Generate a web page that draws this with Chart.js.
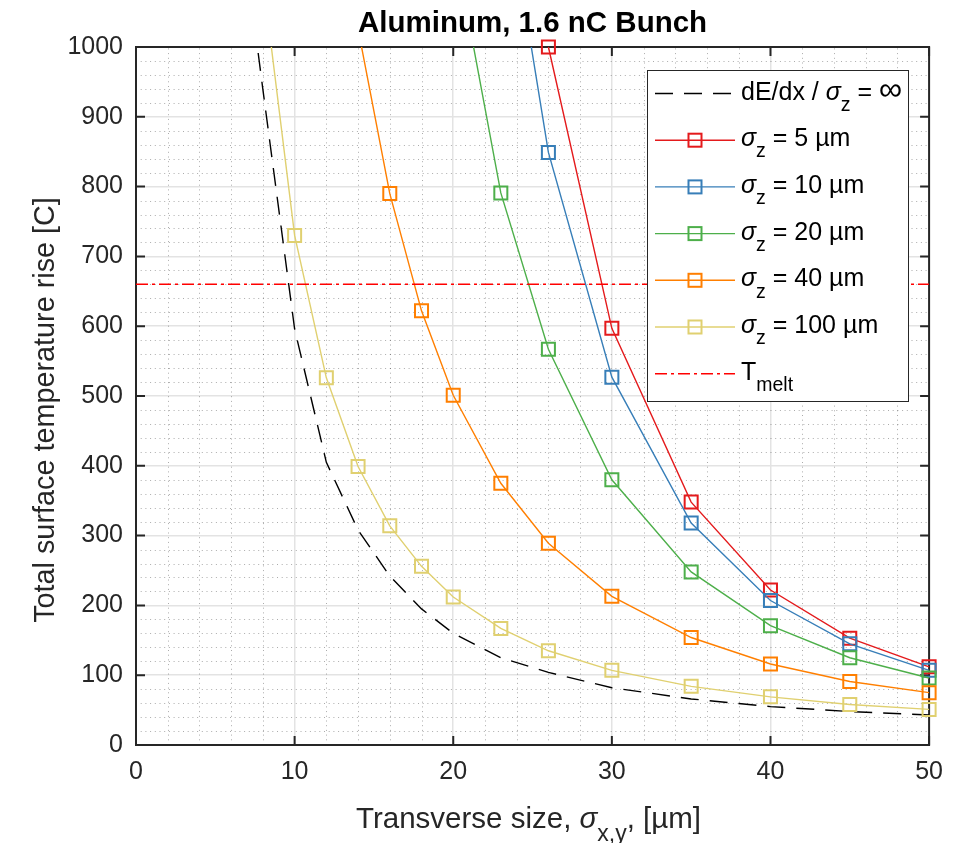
<!DOCTYPE html>
<html>
<head>
<meta charset="utf-8">
<script src="https://cdn.jsdelivr.net/npm/chart.js@4.4.0/dist/chart.umd.min.js"></script>
<style>
  html, body { margin: 0; padding: 0; background: #fff; }
</style>
</head>
<body>
<canvas id="chart" width="955" height="843"></canvas>
<script>
// values (x = transverse size in um, y = temperature rise in C)
var x_inf   = [7, 8, 10, 12, 14, 16, 18, 20, 23, 26, 30, 35, 40, 45, 50];
var t_inf   = [1115, 939, 596, 405, 308, 242, 195, 160, 125, 104, 82, 66, 55, 48, 43];

var x_5   = [26, 30, 35, 40, 45, 50];
var t_5   = [1000, 597, 348, 222, 153, 112];

var x_10  = [23, 26, 30, 35, 40, 45, 50];
var t_10  = [1269, 849, 527, 318, 207, 145, 107];

var x_20  = [20, 23, 26, 30, 35, 40, 45, 50];
var t_20  = [1156, 791, 567, 380, 248, 171, 125, 96];

var x_40  = [14, 16, 18, 20, 23, 26, 30, 35, 40, 45, 50];
var t_40  = [1026, 790, 622, 501, 375, 289, 213, 154, 116, 91, 75];

var x_100 = [8, 10, 12, 14, 16, 18, 20, 23, 26, 30, 35, 40, 45, 50];
var t_100 = [1098, 730, 526, 399, 314, 256, 212, 167, 135, 107, 84, 69, 58, 51];

var t_melt = 660;

var xTicks = [0, 10, 20, 30, 40, 50];
var yTicks = [0, 100, 200, 300, 400, 500, 600, 700, 800, 900, 1000];

var FONT = '"Liberation Sans", Arial, sans-serif';
var INK = '#262626';
var colors = ['#e41a1c', '#377eb8', '#4daf4a', '#ff7f00', '#e0d070'];

function pts(xs, ys) {
    var out = [];
    for (var i = 0; i < xs.length; i++) out.push({x: xs[i], y: ys[i]});
    return out;
}

function seriesSet(label, xs, ys, color, topClip) {
    return {
        label: label,
        data: pts(xs, ys),
        borderColor: color,
        borderWidth: 1.4,
        pointStyle: 'rect',
        pointRadius: 9.2,
        pointHoverRadius: 9.2,
        pointBorderWidth: 2,
        pointBorderColor: color,
        pointBackgroundColor: 'rgba(0,0,0,0)',
        tension: 0,
        clip: {left: 0, top: topClip, right: 9, bottom: 0}
    };
}

// text with italic / subscript parts
function richWidth(ctx, parts, size) {
    var w = 0;
    parts.forEach(function(p) {
        var s = p.sub ? size * 0.78 : (p.big ? size * 1.3 : size);
        ctx.font = (p.it ? 'italic ' : '') + s + 'px ' + FONT;
        w += ctx.measureText(p.t).width;
    });
    return w;
}
function drawRich(ctx, x, y, parts, size, align) {
    if (align === 'center') x -= richWidth(ctx, parts, size) / 2;
    ctx.textAlign = 'left';
    ctx.textBaseline = 'alphabetic';
    parts.forEach(function(p) {
        var s = p.sub ? size * 0.78 : (p.big ? size * 1.3 : size);
        ctx.font = (p.it ? 'italic ' : '') + s + 'px ' + FONT;
        ctx.fillText(p.t, x, y + (p.sub ? size * 0.45 : 0));
        x += ctx.measureText(p.t).width;
    });
}

var frame = {
    id: 'frame',
    beforeDatasetsDraw: function(chart) {
        var ctx = chart.ctx, a = chart.chartArea, xs = chart.scales.x, ys = chart.scales.y;
        ctx.save();
        // minor grid, dotted
        ctx.strokeStyle = 'rgba(0,0,0,0.33)';
        ctx.lineWidth = 1;
        ctx.setLineDash([1, 3.7]);
        for (var v = 2; v < 50; v += 2) {
            if (v % 10 === 0) continue;
            var px = Math.round(xs.getPixelForValue(v)) + 0.5;
            ctx.beginPath(); ctx.moveTo(px, a.bottom); ctx.lineTo(px, a.top); ctx.stroke();
        }
        for (var w = 20; w < 1000; w += 20) {
            if (w % 100 === 0) continue;
            var py = Math.round(ys.getPixelForValue(w)) + 0.5;
            ctx.beginPath(); ctx.moveTo(a.left, py); ctx.lineTo(a.right, py); ctx.stroke();
        }
        ctx.setLineDash([]);
        // box and inward ticks
        ctx.strokeStyle = INK;
        ctx.lineWidth = 2;
        ctx.strokeRect(a.left, a.top, a.right - a.left, a.bottom - a.top);
        var tl = 9;
        xTicks.forEach(function(v) {
            var px = xs.getPixelForValue(v);
            ctx.beginPath();
            ctx.moveTo(px, a.bottom); ctx.lineTo(px, a.bottom - tl);
            ctx.moveTo(px, a.top); ctx.lineTo(px, a.top + tl);
            ctx.stroke();
        });
        yTicks.forEach(function(v) {
            var py = ys.getPixelForValue(v);
            ctx.beginPath();
            ctx.moveTo(a.left, py); ctx.lineTo(a.left + tl, py);
            ctx.moveTo(a.right, py); ctx.lineTo(a.right - tl, py);
            ctx.stroke();
        });
        ctx.restore();
    },
    afterDraw: function(chart) {
        var ctx = chart.ctx, a = chart.chartArea;
        ctx.save();
        ctx.fillStyle = '#000';
        // title
        ctx.font = 'bold 29.5px ' + FONT;
        ctx.textAlign = 'center';
        ctx.textBaseline = 'alphabetic';
        ctx.fillText('Aluminum, 1.6 nC Bunch', (a.left + a.right) / 2, 32);
        // axis titles
        ctx.fillStyle = INK;
        drawRich(ctx, (a.left + a.right) / 2 - 4, 828, [
            {t: 'Transverse size, '}, {t: '\u03c3', it: true}, {t: 'x,y', sub: true}, {t: ', [\u00b5m]'}
        ], 29.5, 'center');
        ctx.save();
        ctx.translate(54, 410);
        ctx.rotate(-Math.PI / 2);
        ctx.font = '28.8px ' + FONT;
        ctx.textAlign = 'center';
        ctx.fillText('Total surface temperature rise [C]', 0, 0);
        ctx.restore();

        // legend
        var bx = 647, by = 70, bw = 261, bh = 331;
        ctx.fillStyle = '#fff';
        ctx.fillRect(bx, by, bw, bh);
        ctx.strokeStyle = INK;
        ctx.lineWidth = 1;
        ctx.strokeRect(bx + 0.5, by + 0.5, bw, bh);
        var ds = chart.data.datasets;
        var rows = [
            {i: 0, parts: [{t: 'dE/dx / '}, {t: '\u03c3', it: true}, {t: 'z', sub: true}, {t: ' = '}, {t: '\u221e', big: true}]},
            {i: 1, parts: [{t: '\u03c3', it: true}, {t: 'z', sub: true}, {t: ' = 5 \u00b5m'}]},
            {i: 2, parts: [{t: '\u03c3', it: true}, {t: 'z', sub: true}, {t: ' = 10 \u00b5m'}]},
            {i: 3, parts: [{t: '\u03c3', it: true}, {t: 'z', sub: true}, {t: ' = 20 \u00b5m'}]},
            {i: 4, parts: [{t: '\u03c3', it: true}, {t: 'z', sub: true}, {t: ' = 40 \u00b5m'}]},
            {i: 5, parts: [{t: '\u03c3', it: true}, {t: 'z', sub: true}, {t: ' = 100 \u00b5m'}]},
            {i: 6, parts: [{t: 'T'}, {t: 'melt', sub: true}]}
        ];
        rows.forEach(function(r, k) {
            var d = ds[r.i];
            var ly = 93.5 + k * 46.7;
            ctx.strokeStyle = d.borderColor;
            ctx.lineWidth = d.borderWidth;
            ctx.setLineDash(d.borderDash || []);
            ctx.beginPath(); ctx.moveTo(655, ly); ctx.lineTo(735, ly); ctx.stroke();
            ctx.setLineDash([]);
            if (d.pointRadius > 0) {
                ctx.lineWidth = 2;
                ctx.strokeRect(695 - 6.5, ly - 6.5, 13, 13);
            }
            ctx.fillStyle = '#000';
            drawRich(ctx, 741, ly + 6, r.parts, 25, 'left');
        });
        ctx.restore();
    }
};

var datasets = [
    {
        label: 'dE/dx / sigma_z = inf',
        data: pts(x_inf, t_inf),
        borderColor: '#000',
        borderWidth: 1.4,
        borderDash: [18, 11],
        pointRadius: 0,
        tension: 0,
        clip: {left: 0, top: 0, right: 0, bottom: 0}
    },
    seriesSet('sigma_z = 5 um', x_5, t_5, colors[0], 9),
    seriesSet('sigma_z = 10 um', x_10, t_10, colors[1], 0),
    seriesSet('sigma_z = 20 um', x_20, t_20, colors[2], 0),
    seriesSet('sigma_z = 40 um', x_40, t_40, colors[3], 0),
    seriesSet('sigma_z = 100 um', x_100, t_100, colors[4], 0),
    {
        label: 'T_melt',
        data: [{x: xTicks[0], y: t_melt}, {x: xTicks[xTicks.length - 1], y: t_melt}],
        borderColor: '#ff0000',
        borderWidth: 1.4,
        borderDash: [12, 4, 3, 4],
        pointRadius: 0,
        tension: 0
    }
];
datasets.forEach(function(d, i) { d.order = -i; });

var plainTick = function(v) { return String(v); };

var ctx = document.getElementById('chart').getContext('2d');
var chart = new Chart(ctx, {
    type: 'line',
    data: {datasets: datasets},
    options: {
        responsive: false,
        animation: false,
        devicePixelRatio: 1,
        layout: {padding: {left: 0, right: 24, top: 47, bottom: 0}},
        plugins: {legend: {display: false}, tooltip: {enabled: false}, title: {display: false}},
        scales: {
            x: {
                type: 'linear', min: 0, max: 50,
                afterFit: function(s) { s.height = 98; },
                afterBuildTicks: function(s) { s.ticks = xTicks.map(function(v) { return {value: v}; }); },
                ticks: {font: {family: FONT, size: 25}, color: INK, padding: 12, maxRotation: 0, callback: plainTick},
                grid: {color: '#e3e3e3', lineWidth: 1.5, drawTicks: false},
                border: {display: false}
            },
            y: {
                type: 'linear', min: 0, max: 1000,
                afterFit: function(s) { s.width = 136; },
                afterBuildTicks: function(s) { s.ticks = yTicks.map(function(v) { return {value: v}; }); },
                ticks: {font: {family: FONT, size: 25}, color: INK, padding: 13, callback: plainTick},
                grid: {color: '#e3e3e3', lineWidth: 1.5, drawTicks: false},
                border: {display: false}
            }
        }
    },
    plugins: [frame]
});
</script>
</body>
</html>
